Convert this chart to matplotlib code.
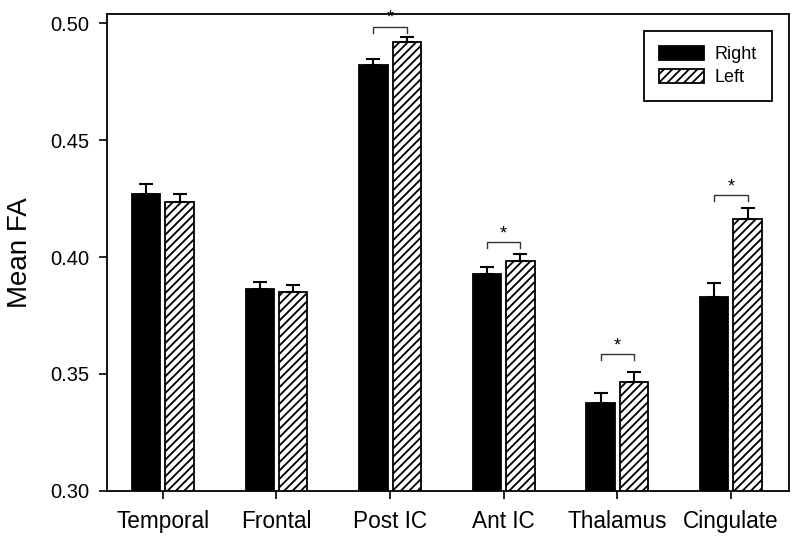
import matplotlib
matplotlib.use("Agg")
import matplotlib.pyplot as plt
import numpy as np

plt.rcParams['font.family'] = ['Liberation Sans', 'DejaVu Sans']
plt.rcParams['hatch.linewidth'] = 1.3

categories = ["Temporal", "Frontal", "Post IC", "Ant IC", "Thalamus", "Cingulate"]
right_vals = [0.4268, 0.3862, 0.4822, 0.3927, 0.3374, 0.3830]
right_err = [0.0044, 0.0030, 0.0027, 0.0031, 0.0045, 0.0057]
left_vals = [0.4234, 0.3849, 0.4919, 0.3982, 0.3465, 0.4163]
left_err = [0.0036, 0.0031, 0.0024, 0.0031, 0.0043, 0.0048]
sig_groups = [2, 3, 4, 5]
sig_levels = [0.4985, 0.4063, 0.3584, 0.4265]
yticks = [0.30, 0.35, 0.40, 0.45, 0.50]

fig = plt.figure(figsize=(8.0, 5.43), dpi=100)
ax = fig.add_axes([0.134, 0.0963, 0.852, 0.8778])

x = np.arange(len(categories))
off = 0.147
w = 0.25

err_kw = dict(ecolor='black', elinewidth=1.5, capsize=4.8, capthick=1.5)
ax.bar(x - off, right_vals, w, color='black', edgecolor='black', linewidth=1.3,
       yerr=[np.zeros(len(x)), right_err], error_kw=err_kw, label='Right', zorder=2)
ax.bar(x + off, left_vals, w, color='white', edgecolor='black', linewidth=1.3,
       hatch='////', yerr=[np.zeros(len(x)), left_err], error_kw=err_kw, label='Left', zorder=2)

for g, lev in zip(sig_groups, sig_levels):
    x0, x1 = g - off, g + off
    drop = 0.0024
    ax.plot([x0, x0, x1, x1], [lev - drop, lev, lev, lev - drop], color='#333333',
            lw=1.0, zorder=3)
    ax.annotate('*', xy=(g, lev), xytext=(0, 0), textcoords='offset points',
                ha='center', va='bottom', fontsize=13)

ax.set_xlim(-0.49, 5.51)
ax.set_ylim(0.30, 0.504)
ax.set_yticks(yticks)
ax.set_yticklabels([f"{v:.2f}" for v in yticks])
ax.set_xticks(x)
ax.set_xticklabels(categories)
ax.tick_params(axis='y', direction='out', length=6, width=1.2, labelsize=14.5, pad=7)
ax.tick_params(axis='x', direction='out', length=6, width=1.2, labelsize=16.3, pad=8)
for s in ax.spines.values():
    s.set_linewidth(1.3)

ax.set_ylabel("Mean FA", fontsize=20, labelpad=12)

leg = ax.legend(loc='upper right', bbox_to_anchor=(0.9755, 0.965), borderaxespad=0,
                fontsize=13, frameon=True, fancybox=False, edgecolor='black',
                handlelength=2.45, handleheight=0.8, handletextpad=0.6,
                labelspacing=0.3, borderpad=0.85)
leg.get_frame().set_linewidth(1.3)
leg.get_frame().set_alpha(1)

fig.savefig("out.png", dpi=100)
